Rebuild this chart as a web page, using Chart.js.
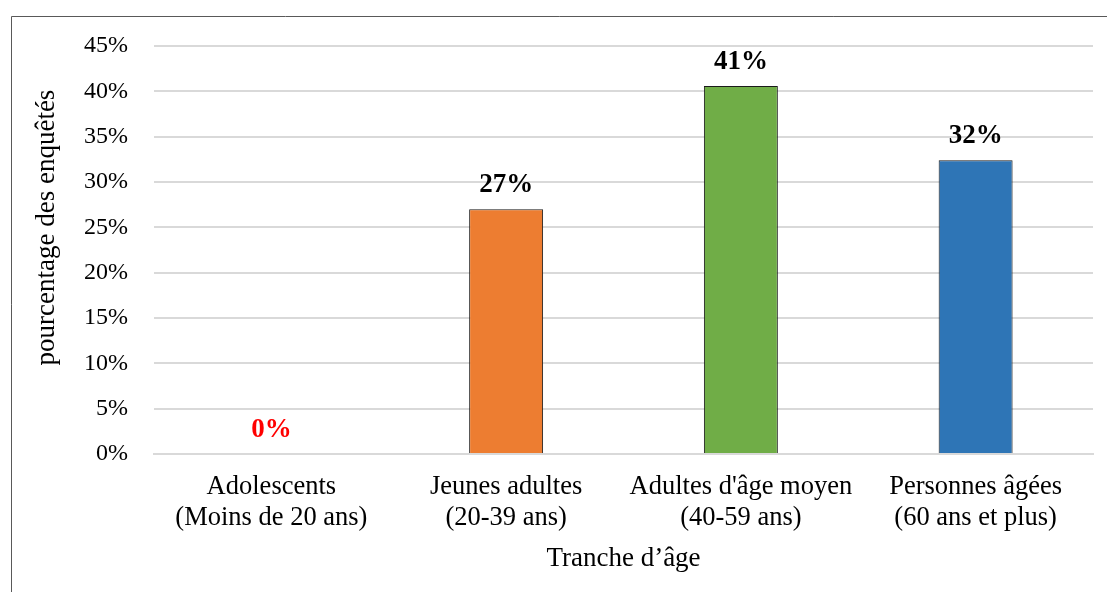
<!DOCTYPE html>
<html lang="fr">
<head>
<meta charset="utf-8">
<title>Tranche d'âge des enquêtés</title>
<script src="https://cdn.jsdelivr.net/npm/chart.js@4.4.1/dist/chart.umd.min.js"></script>
<style>
  html, body { margin: 0; padding: 0; background: #ffffff; }
  #wrap { width: 1107px; height: 592px; position: relative; }
</style>
</head>
<body>
<div id="wrap"><canvas id="chart" width="1107" height="592"></canvas></div>
<script>
// Age groups (two-line labels)
const categories = [
  ['Adolescents', '(Moins de 20 ans)'],
  ['Jeunes adultes', '(20-39 ans)'],
  ["Adultes d'âge moyen", '(40-59 ans)'],
  ['Personnes âgées', '(60 ans et plus)']
];
// Share of respondents, in percent
const shares = [0, 27.0, 40.6, 32.4];
const barColors = ['#ED7D31', '#ED7D31', '#70AD47', '#2E75B6'];
const labelColors = ['#FF0000', '#000000', '#000000', '#000000'];
const yTicks = [0, 5, 10, 15, 20, 25, 30, 35, 40, 45];
const yTitle = 'pourcentage des enquêtés';

const serif = "'Liberation Serif', 'Times New Roman', serif";

// Value labels above each bar
const valueLabels = {
  id: 'valueLabels',
  afterDatasetsDraw(chart) {
    const ctx = chart.ctx;
    const meta = chart.getDatasetMeta(0);
    ctx.save();
    ctx.font = 'bold 27px ' + serif;
    ctx.textAlign = 'center';
    ctx.textBaseline = 'middle';
    meta.data.forEach((bar, i) => {
      ctx.fillStyle = labelColors[i];
      ctx.fillText(Math.round(shares[i]) + '%', bar.x, bar.y - 24);
    });
    ctx.restore();
  }
};

// Outer frame of the figure and the vertical axis title
const frame = {
  id: 'frame',
  beforeDraw(chart) {
    const ctx = chart.ctx;
    ctx.save();
    ctx.strokeStyle = '#595959';
    ctx.lineWidth = 1;
    ctx.beginPath();
    ctx.moveTo(11.5, chart.height);
    ctx.lineTo(11.5, 16.5);
    ctx.lineTo(chart.width, 16.5);
    ctx.stroke();
    ctx.restore();
  },
  afterDraw(chart) {
    const ctx = chart.ctx;
    const area = chart.chartArea;
    ctx.save();
    ctx.translate(47, area.top + (area.bottom - area.top) * 0.445);
    ctx.rotate(-Math.PI / 2);
    ctx.font = '27px ' + serif;
    ctx.fillStyle = '#000000';
    ctx.textAlign = 'center';
    ctx.textBaseline = 'middle';
    ctx.fillText(yTitle, 0, 0);
    ctx.restore();
  }
};

new Chart(document.getElementById('chart'), {
  type: 'bar',
  data: {
    labels: categories,
    datasets: [{
      data: shares,
      backgroundColor: barColors,
      borderColor: '#1a1a1a',
      borderWidth: 1,
      categoryPercentage: 1,
      barPercentage: 0.315
    }]
  },
  options: {
    responsive: false,
    animation: false,
    layout: { padding: { left: 0, right: 14, top: 46, bottom: 0 } },
    plugins: {
      legend: { display: false },
      tooltip: { enabled: false }
    },
    scales: {
      x: {
        grid: { display: false, drawTicks: false },
        border: { display: true, color: '#d9d9d9', width: 2 },
        ticks: {
          color: '#000000',
          font: { family: serif, size: 26.5, lineHeight: 1.17 },
          padding: 18,
          maxRotation: 0,
          autoSkip: false
        },
        title: {
          display: true,
          text: 'Tranche d’âge',
          color: '#000000',
          font: { family: serif, size: 27, lineHeight: 1.2 },
          padding: { top: 0, bottom: 17 }
        },
        afterFit(scale) { scale.height = 592 - 454; }
      },
      y: {
        min: 0,
        max: 45,
        afterBuildTicks(scale) { scale.ticks = yTicks.map(v => ({ value: v })); },
        grid: { color: '#d9d9d9', lineWidth: 2, drawTicks: false },
        border: { display: false },
        ticks: {
          color: '#000000',
          font: { family: serif, size: 24 },
          padding: 26,
          callback: v => v + '%'
        },
        afterFit(scale) { scale.width = 154; }
      }
    }
  },
  plugins: [frame, valueLabels]
});
</script>
</body>
</html>
